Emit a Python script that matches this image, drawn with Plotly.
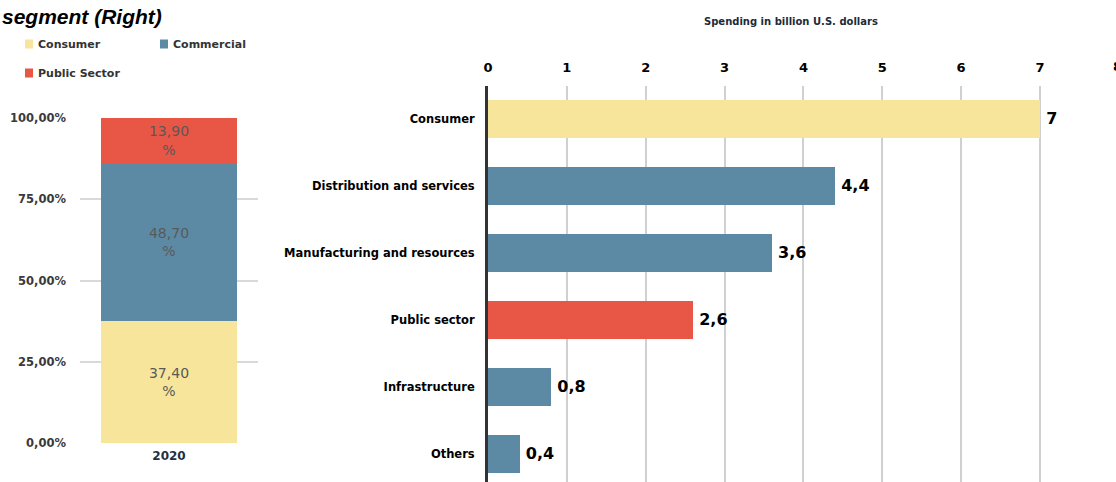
import plotly.graph_objects as go

# Market share by segment, 2020 (stacked 100% column)
share_year = ["2020"]
share_segments = ["Consumer", "Commercial", "Public Sector"]
share_values = [37.4, 48.7, 13.9]  # percent
share_ticks = [0, 0.25, 0.5, 0.75, 1.0]

# Spending by segment (billion U.S. dollars)
sectors = ["Consumer", "Distribution and services", "Manufacturing and resources",
           "Public sector", "Infrastructure", "Others"]
spending = [7, 4.4, 3.6, 2.6, 0.8, 0.4]
spending_ticks = [0, 1, 2, 3, 4, 5, 6, 7]

YELLOW = "#F7E59B"
BLUE = "#5C8AA5"
RED = "#E85646"
segment_colors = {"Consumer": YELLOW, "Commercial": BLUE, "Public Sector": RED}
sector_colors = [YELLOW, BLUE, BLUE, RED, BLUE, BLUE]

W, H = 1116, 482
FONT = "DejaVu Sans"

fig = go.Figure()

# ---- left: stacked share column ----
for seg, val in zip(share_segments, share_values):
    fig.add_trace(go.Bar(
        x=share_year, y=[val / 100], name=seg,
        marker=dict(color=segment_colors[seg], line=dict(width=0)),
        width=0.76,
        text=[f"{val:.2f}".replace(".", ",") + "<br>%"],
        textposition="inside", insidetextanchor="middle",
        textfont=dict(family=FONT, size=14, color="#595959"),
        showlegend=False, xaxis="x", yaxis="y",
    ))

# ---- right: horizontal spending bars ----
fig.add_trace(go.Bar(
    x=spending, y=sectors, orientation="h",
    marker=dict(color=sector_colors, line=dict(width=0)),
    width=0.57,
    text=["\u2009" + str(v).replace(".", ",") for v in spending],
    textposition="outside", cliponaxis=False,
    textfont=dict(family=FONT, size=16, color="#000000", weight="bold"),
    showlegend=False, xaxis="x2", yaxis="y2",
))

px_per_unit = (1040 - 488) / 7.0
x2_max = (W - 488) / px_per_unit

fig.update_layout(
    width=W, height=H,
    margin=dict(l=0, r=0, t=0, b=0, autoexpand=False),
    paper_bgcolor="white", plot_bgcolor="white",
    barmode="stack",
    separators=",.",
    uniformtext=dict(mode="show", minsize=8),
    xaxis=dict(
        domain=[80 / W, 258 / W], anchor="y", automargin=False,
        showgrid=False, showline=False, zeroline=False,
        tickfont=dict(family=FONT, size=12, color="#1F3044", weight="bold"),
        ticks="", ticklabelstandoff=4,
    ),
    yaxis=dict(
        domain=[1 - 443 / H, 1 - 118 / H], anchor="x", automargin=False,
        range=[0, 1], tickvals=share_ticks, tickformat=".2%",
        showgrid=True, gridcolor="#D9D9D9", gridwidth=2,
        zeroline=False, showline=False,
        tickfont=dict(family=FONT, size=11.5, color="#3A3A3A", weight="bold"),
        ticks="", ticklabelstandoff=13,
    ),
    xaxis2=dict(
        domain=[488 / W, 1.0], anchor="y2", side="top", automargin=False,
        range=[0, x2_max], tickvals=spending_ticks,
        showgrid=True, gridcolor="#D0D0D0", gridwidth=1.5,
        zeroline=False, showline=False,
        tickfont=dict(family=FONT, size=13, color="#000000", weight="bold"),
        ticks="", ticklabelstandoff=10,
    ),
    yaxis2=dict(
        domain=[0, 1 - 85.5 / H], anchor="x2", automargin=False,
        categoryorder="array", categoryarray=sectors,
        range=[5.42, -0.5],
        showgrid=False, zeroline=False,
        showline=True, linecolor="#333333", linewidth=3,
        tickfont=dict(family=FONT, size=11.5, color="#000000", weight="bold"),
        ticks="", ticklabelstandoff=8,
    ),
)

# axis title, tick "8" at the clipped right edge, and chart heading
fig.add_annotation(
    text="<b>Spending in billion U.S. dollars</b>", xref="paper", yref="paper",
    x=791 / W, y=1 - 22 / H, xanchor="center", yanchor="middle", showarrow=False,
    font=dict(family=FONT, size=10, color="#1D2A3A"),
)
fig.add_annotation(
    text="<b>8</b>", xref="paper", yref="paper", x=1111 / W, y=1 - 67 / H,
    xanchor="left", yanchor="middle", showarrow=False,
    font=dict(family=FONT, size=13, color="#000000"),
)
fig.add_annotation(
    text="<b><i>segment (Right)</i></b>", xref="paper", yref="paper",
    x=0, y=1 - 17 / H, xanchor="left", yanchor="middle", showarrow=False,
    font=dict(family="Liberation Sans", size=21, color="#000000"),
)

# legend for the share column
legend_items = [("Consumer", 25, 44), ("Commercial", 160, 44), ("Public Sector", 25, 73)]
for seg, lx, ly in legend_items:
    fig.add_shape(
        type="rect", xref="paper", yref="paper",
        x0=lx / W, x1=(lx + 8) / W, y0=1 - (ly + 4.5) / H, y1=1 - (ly - 4.5) / H,
        fillcolor=segment_colors[seg], line=dict(width=0),
    )
    fig.add_annotation(
        text=f"<b>{seg}</b>", xref="paper", yref="paper",
        x=(lx + 11) / W, y=1 - ly / H, xanchor="left", yanchor="middle", showarrow=False,
        font=dict(family=FONT, size=11, color="#333333"),
    )

fig.write_html("out.html")
